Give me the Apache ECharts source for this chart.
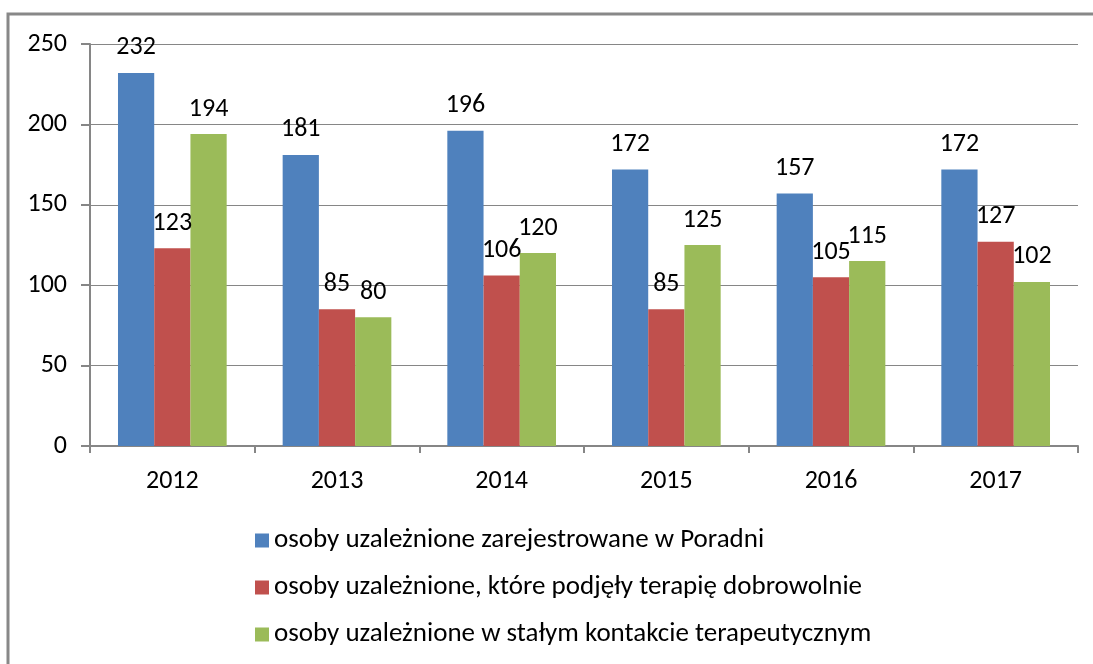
<!DOCTYPE html>
<html>
<head>
<meta charset="utf-8">
<script src="https://cdn.jsdelivr.net/npm/echarts@6/dist/echarts.min.js"></script>
<style>
  html, body { margin: 0; padding: 0; background: #fff; }
  #main { width: 1093px; height: 664px; }
</style>
</head>
<body>
<div id="main"></div>
<script>
// dane
var years = ['2012', '2013', '2014', '2015', '2016', '2017'];
var zarejestrowane = [232, 181, 196, 172, 157, 172];
var dobrowolnie = [123, 85, 106, 85, 105, 127];
var kontakt = [194, 80, 120, 125, 115, 102];
var names = [
    'osoby uzależnione zarejestrowane w Poradni',
    'osoby uzależnione, które podjęły terapię dobrowolnie',
    'osoby uzależnione w stałym kontakcie terapeutycznym'
];
var colors = ['#4F81BD', '#C0504D', '#9BBB59'];

var font = 'Carlito, Calibri, "Open Sans", sans-serif';
var fs = 26;

var myChart = echarts.init(document.getElementById('main'));

function bar(i, data) {
    return {
        name: names[i],
        type: 'bar',
        data: data,
        barGap: '0%',
        barCategoryGap: '34%',
        itemStyle: { color: colors[i] },
        label: {
            show: true,
            position: 'top',
            distance: 12,
            color: '#000',
            fontSize: fs,
            fontFamily: font
        }
    };
}

myChart.setOption({
    animation: false,
    textStyle: { fontFamily: font },
    graphic: [{
        type: 'rect',
        shape: { x: 8, y: 14, width: 1100, height: 700 },
        style: { fill: 'none', stroke: '#888', lineWidth: 3 },
        silent: true
    }],
    grid: { left: 90, right: 15, top: 44, bottom: 218 },
    legend: {
        orient: 'vertical',
        left: 250,
        top: 522,
        itemWidth: 14,
        itemHeight: 14,
        itemGap: 20,
        icon: 'rect',
        textStyle: { fontSize: 27, color: '#000', fontFamily: font },
        data: names
    },
    xAxis: {
        type: 'category',
        data: years,
        axisLine: { lineStyle: { color: '#868686', width: 2 } },
        axisTick: { show: true, length: 7, lineStyle: { color: '#868686', width: 2 } },
        axisLabel: { fontSize: fs, color: '#000', margin: 22, fontFamily: font }
    },
    yAxis: {
        type: 'value',
        min: 0,
        max: 250,
        interval: 50,
        axisLine: { show: true, lineStyle: { color: '#868686', width: 2 } },
        axisTick: { show: true, length: 9, lineStyle: { color: '#868686', width: 2 } },
        axisLabel: { fontSize: fs, color: '#000', margin: 23, fontFamily: font },
        splitLine: { lineStyle: { color: '#868686', width: 1 } }
    },
    series: [
        bar(0, zarejestrowane),
        bar(1, dobrowolnie),
        bar(2, kontakt)
    ]
});
</script>
</body>
</html>
